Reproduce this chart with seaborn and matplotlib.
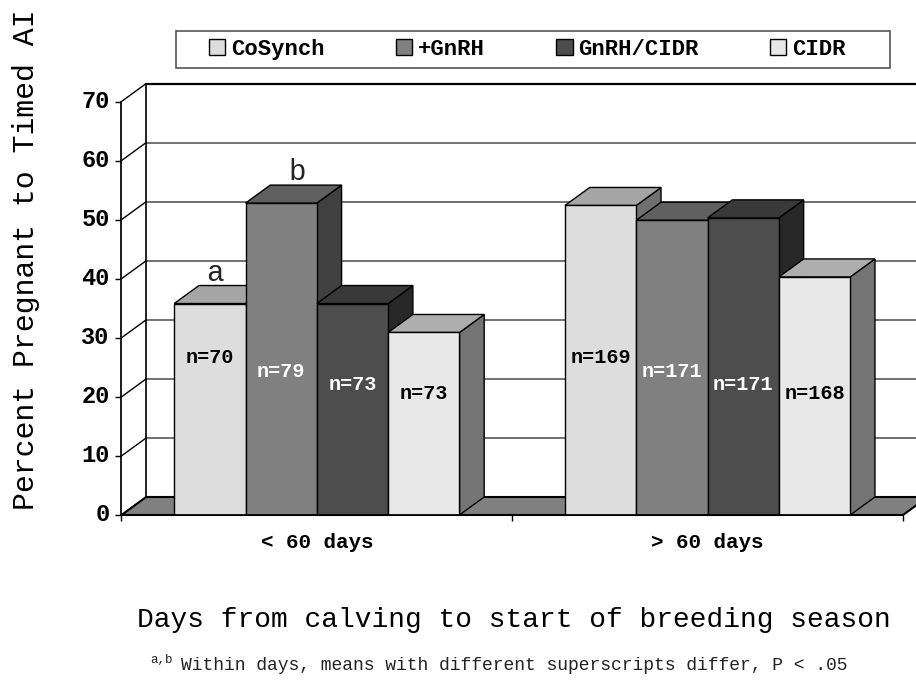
import matplotlib
matplotlib.use("Agg")
import matplotlib.pyplot as plt
from matplotlib.patches import Polygon, Rectangle
from matplotlib.transforms import ScaledTranslation
import pandas as pd
import seaborn as sns

periods = ["< 60 days", "> 60 days"]
protocols = ["CoSynch", "+GnRH", "GnRH/CIDR", "CIDR"]
pct_early = [35.8, 52.8, 35.8, 30.9]
pct_late = [52.4, 49.9, 50.3, 40.3]
n_early = [70, 79, 73, 73]
n_late = [169, 171, 171, 168]
y_ticks = [0, 10, 20, 30, 40, 50, 60, 70]

front_colors = ["#DDDDDD", "#808080", "#4D4D4D", "#E8E8E8"]
top_colors = ["#A6A6A6", "#606060", "#393939", "#AEAEAE"]
side_colors = ["#707070", "#404040", "#282828", "#747474"]
label_colors = ["black", "white", "white", "black"]
# height of the n= labels per series, they don't follow the bar
label_heights = [26.7, 24.3, 22.1, 20.5]

MONO = "Liberation Mono"
W, H = 916, 682

sns.set_theme(style="white")
plt.rcParams["font.family"] = [MONO, "DejaVu Sans"]

df = pd.DataFrame({
    "period": [periods[0]] * 4 + [periods[1]] * 4,
    "protocol": protocols * 2,
    "pct": pct_early + pct_late,
})

fig = plt.figure(figsize=(W / 100, H / 100), dpi=100, facecolor="white")
ax = fig.add_axes([121.5 / W, 1 - 515 / H, 781.5 / W, 413.5 / H])

sns.barplot(data=df, x="period", y="pct", hue="protocol", order=periods, hue_order=protocols,
            palette=front_colors, saturation=1, width=0.73, gap=0, edgecolor="black",
            linewidth=1, ax=ax)
ax.set_xlim(-0.5, 1.5)
ax.set_ylim(0, 70)

# depth of the fake 3d box, 25px right and 18px up
dx = 24.7 / (781.5 / 2)
dy = 18 / (413.5 / 70)
x0, x1 = ax.get_xlim()

for v in y_ticks:
    color = "black" if v in (0, 70) else "#666666"
    lw = 1.6 if v in (0, 70) else 1.3
    if v > 0:
        ax.plot([x0 + dx, x1 + dx], [v + dy, v + dy], color=color, lw=lw, clip_on=False, zorder=0.6)
    ax.plot([x0, x0 + dx], [v, v + dy], color="black", lw=1, clip_on=False, zorder=0.7)

floor = Polygon([(x0, 0), (x1, 0), (x1 + dx, dy), (x0 + dx, dy)], closed=True, facecolor="#808080",
                edgecolor="black", lw=1.5, clip_on=False, zorder=0.8)
ax.add_patch(floor)
ax.plot([x0 + dx, x0 + dx], [0 + dy, 70 + dy], color="black", lw=1.2, clip_on=False, zorder=0.9)

# sides and tops of the bars, left to right so the later ones cover the earlier
n_all = [n_early, n_late]
for s, bars in enumerate(ax.containers):
    for g, bar in enumerate(bars):
        left = bar.get_x()
        right = left + bar.get_width()
        top = bar.get_height()
        z = 2 + g * 10 + s
        bar.set_zorder(z + 0.2)
        ax.add_patch(Polygon([(right, 0), (right + dx, dy), (right + dx, top + dy), (right, top)], closed=True,
                             facecolor=side_colors[s], edgecolor="black", lw=1, clip_on=False, zorder=z))
        ax.add_patch(Polygon([(left, top), (left + dx, top + dy), (right + dx, top + dy), (right, top)], closed=True,
                             facecolor=top_colors[s], edgecolor="black", lw=1, clip_on=False, zorder=z + 0.1))
        ax.text((left + right) / 2, label_heights[s], "n=%d" % n_all[g][s], color=label_colors[s],
                fontsize=14.5, fontweight="bold", ha="center", va="center", zorder=50)

first = ax.containers[0][0]
second = ax.containers[1][0]
ax.text(first.get_x() + first.get_width() / 2 + dx * 0.22, first.get_height() + dy - 0.3, "a",
        fontsize=21, ha="center", va="bottom", zorder=50)
ax.text(second.get_x() + second.get_width() / 2 + dx * 0.65, second.get_height() + dy - 0.1, "b",
        fontsize=21, ha="center", va="bottom", zorder=50)

sns.despine(ax=ax, top=True, right=True)
ax.spines["left"].set_color("black")
ax.spines["bottom"].set_color("black")
ax.spines["bottom"].set_zorder(60)
ax.set_yticks(y_ticks)
ax.set_xticks([0, 1])
ax.set_xticks([-0.5, 0.5, 1.5], minor=True)
ax.set_xticklabels(periods, fontsize=15, fontweight="bold", color="black")
ax.set_yticklabels([str(v) for v in y_ticks], fontsize=17, fontweight="bold", color="black")
ax.tick_params(axis="y", left=True, length=4.5, width=1, color="black", pad=4)
ax.tick_params(axis="x", which="major", bottom=False, length=0, pad=13)
ax.tick_params(axis="x", which="minor", bottom=True, length=4, width=1, color="black")
lift = ScaledTranslation(0, 2 / 72, fig.dpi_scale_trans)
for lab in ax.get_yticklabels():
    lab.set_transform(lab.get_transform() + lift)

ax.set_ylabel("Percent Pregnant to Timed AI", fontsize=21.5, color="black", va="center")
ax.yaxis.set_label_coords(-95 / 781.5, 0.617)
ax.set_xlabel("Days from calving to start of breeding season", fontsize=20.1, color="black", va="center")
ax.xaxis.set_label_coords(392.5 / 781.5, -105 / 413.5)

fig.text(150 / W, 1 - 660 / H, "a,b", fontsize=9, color="#222222", ha="left", va="center")
fig.text(514 / W, 1 - 665 / H, "Within days, means with different superscripts differ, P < .05",
         fontsize=13, color="#222222", ha="center", va="center")

# legend box is drawn apart, its padding is wider than it is tall
fig.add_artist(Rectangle((175.5 / W, 1 - 68 / H), 714.5 / W, 37 / H, transform=fig.transFigure,
                         facecolor="white", edgecolor="#555555", lw=1.2, zorder=-1))
sns.move_legend(ax, "center", bbox_to_anchor=(527 / W, 1 - 49.5 / H), bbox_transform=fig.transFigure,
                ncol=4, title=None, frameon=False,
                prop={"family": MONO, "weight": "bold", "size": 16}, handlelength=0.75, handleheight=0.75,
                handletextpad=0.25, columnspacing=3.2, borderpad=0, labelcolor="black")
ax.get_legend().set_zorder(70)

fig.savefig("out.png", dpi=100, facecolor="white")
